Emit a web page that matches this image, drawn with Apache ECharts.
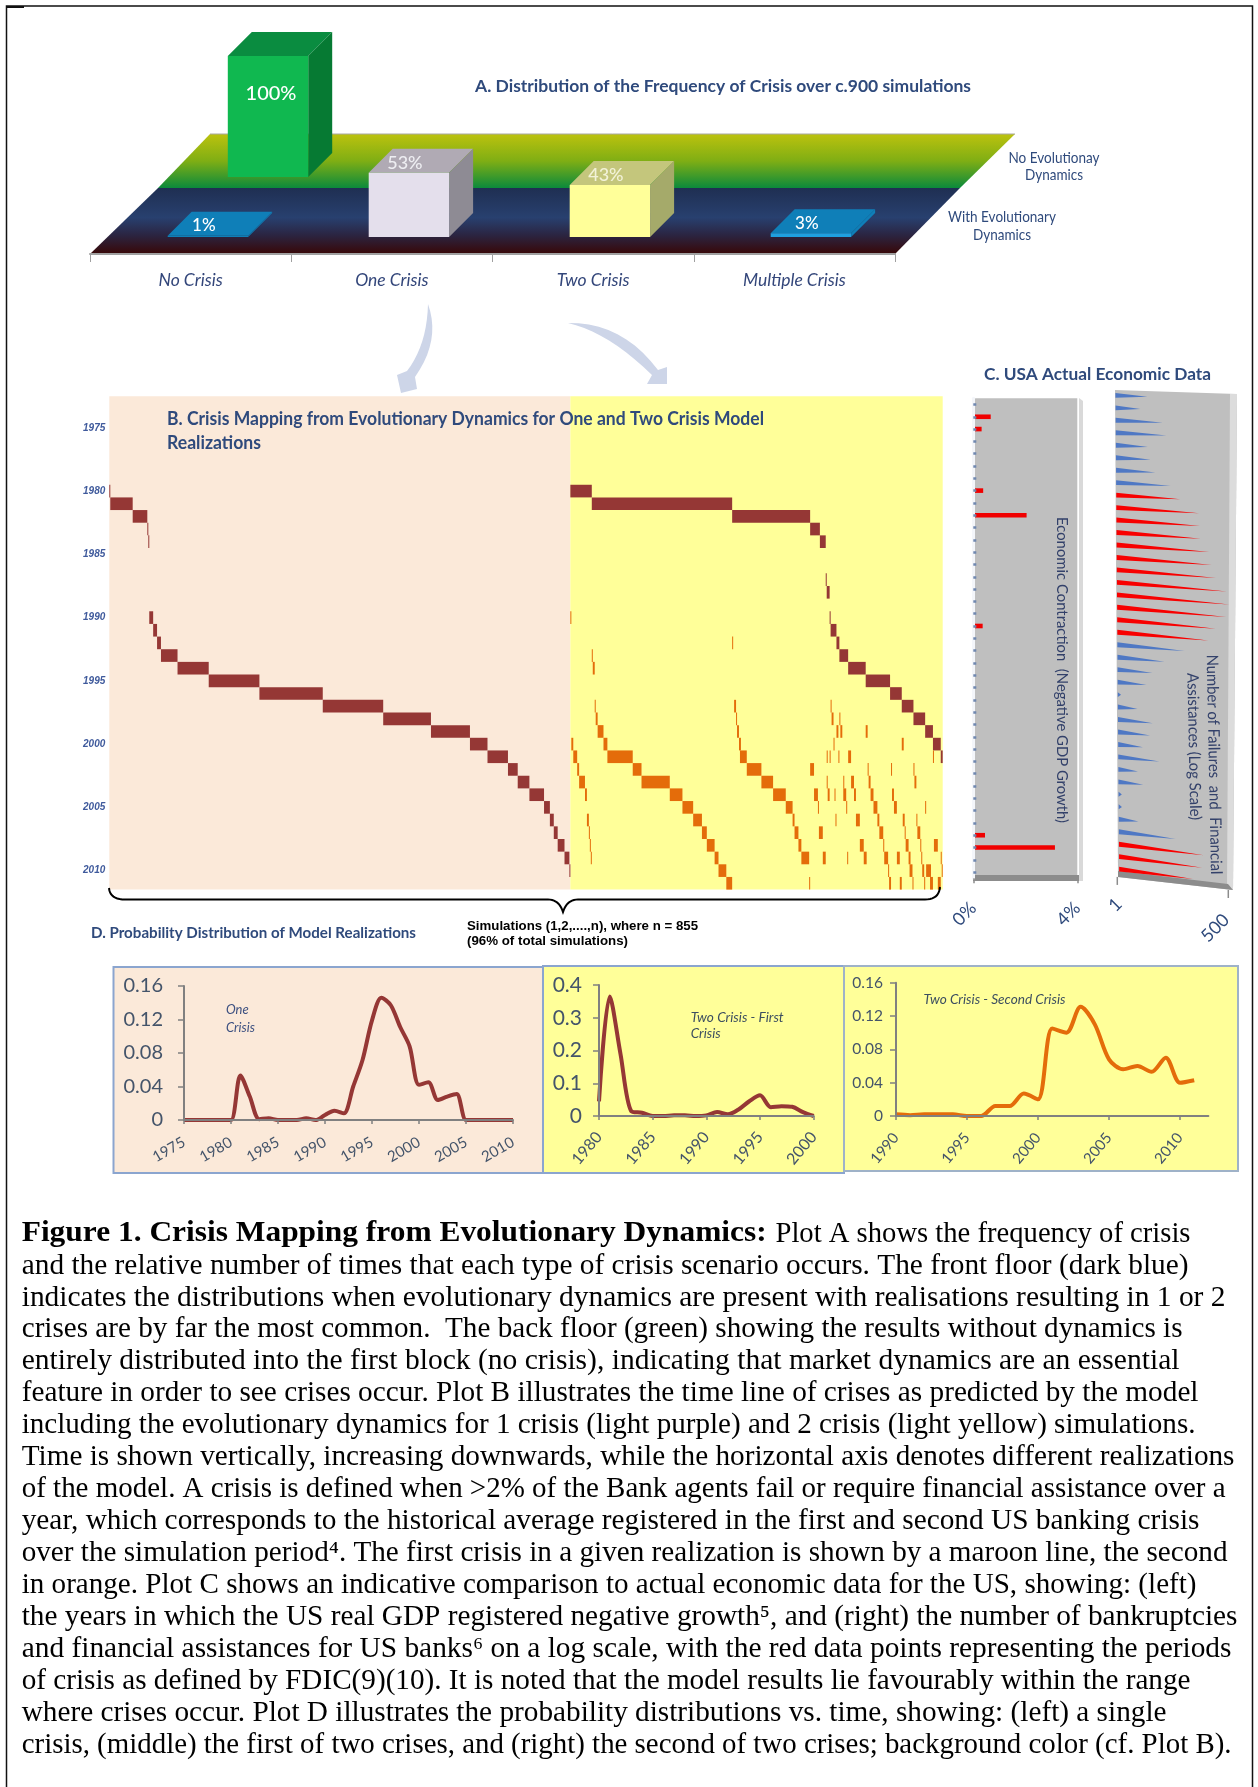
<!DOCTYPE html>
<html><head><meta charset="utf-8">
<style>html,body{margin:0;padding:0;background:#fff}#main{width:1258px;height:1787px}</style>
<script src="https://cdn.jsdelivr.net/npm/echarts@6/dist/echarts.min.js"></script>
</head><body><div id="main"></div>
<script>
// ---------- DATA ----------
const crisisCategories = ['No Crisis','One Crisis','Two Crisis','Multiple Crisis'];
const withDynamicsPct = [1,53,43,3];
const noDynamicsPct = [100,0,0,0];
const yearRows = [];
for (let y = 1973; y <= 2011; y++) yearRows.push(String(y));
const totalSimulations = 855;
const oneCrisisShare = 473;

// [year, first simulation, last simulation]
const oneCrisisFirst = [[1980,0,1],[1981,1,24],[1982,24,39],[1983,39,40],[1984,40,41],[1990,41,45],[1991,45,49],[1992,49,53],[1993,53,70],[1994,70,102],[1995,102,154],[1996,154,219],[1997,219,281],[1998,281,330],[1999,330,370],[2000,370,388],[2001,388,409],[2002,409,419],[2003,419,431],[2004,431,446],[2005,446,452],[2006,452,456],[2007,456,460],[2008,460,467],[2009,467,472],[2010,472,473]];
const twoCrisisFirst = [[1980,473,495],[1981,495,639],[1982,639,719],[1983,719,729],[1984,729,735],[1987,735,736],[1988,736,739],[1990,739,740],[1991,740,746],[1992,746,749],[1993,749,758],[1994,758,776],[1995,776,801],[1996,801,813],[1997,813,825],[1998,825,837],[1999,837,845],[2000,845,853],[2001,853,855]];
const twoCrisisSecond = [[1990,473,474],[1992,639,640],[1993,495,496],[1994,496,498],
[1997,498,499],[1997,641,643],[1997,740,741],
[1998,499,501],[1998,643,644],[1998,741,743],[1998,749,750],
[1999,501,507],[1999,644,646],[1999,746,748],[1999,750,752],[1999,776,778],
[2000,474,476],[2000,507,511],[2000,646,648],[2000,743,744],[2000,813,815],
[2001,476,480],[2001,511,537],[2001,647,654],[2001,736,737],[2001,739,740],[2001,748,749],[2001,758,761],[2001,845,846],
[2002,480,482],[2002,537,546],[2002,654,669],[2002,719,723],[2002,778,779],[2002,802,803],[2002,825,826],
[2003,482,488],[2003,546,575],[2003,669,681],[2003,736,737],[2003,753,754],[2003,761,764],[2003,779,781],[2003,826,828],
[2004,488,490],[2004,575,588],[2004,681,694],[2004,723,727],[2004,737,739],[2004,744,745],[2004,753,756],[2004,764,766],[2004,781,784],[2004,803,805],
[2005,588,599],[2005,694,701],[2005,727,728],[2005,756,757],[2005,784,788],[2005,805,808],[2005,837,838],
[2006,490,492],[2006,599,608],[2006,701,703],[2006,745,746],[2006,766,770],[2006,788,790],[2006,814,816],[2006,828,829],
[2007,492,493],[2007,608,613],[2007,703,707],[2007,728,732],[2007,790,794],[2007,816,817],[2007,829,832],
[2008,493,494],[2008,613,621],[2008,707,710],[2008,770,774],[2008,794,795],[2008,817,820],[2008,832,833],[2008,846,850],
[2009,494,495],[2009,621,625],[2009,710,718],[2009,732,735],[2009,757,758],[2009,774,777],[2009,795,799],[2009,808,811],[2009,820,822],[2009,833,834],[2009,853,854],
[2010,625,633],[2010,799,800],[2010,821,824],[2010,834,836],[2010,838,843],[2010,854,855],
[2011,633,639],[2011,718,719],[2011,800,802],[2011,811,813],[2011,824,825],[2011,836,837],[2011,842,845],[2011,850,853]];

// percent contraction per year, 1973..2011
const gdpContraction = [0,.67,.32,0,0,0,0,.38,0,2.05,0,0,0,0,0,0,0,0,.36,0,0,0,0,0,0,0,0,0,0,0,0,0,0,0,0,.45,3.14,0,0];
// failures and assistances per year, 1973..2011
const bankFailures = [6,4,14,17,6,7,9,21,36,103,107,111,178,203,258,467,534,447,250,162,43,14,7,5,1.2,3,7,6,4,10,3,4,1.2,1.2,3,24,115,105,62];
const fdicCrisisYears = [1981,1982,1983,1984,1985,1986,1987,1988,1989,1990,1991,1992,2009,2010,2011];
const logTicks = [1,500];

const oneCrisisYears = [1975,1976,1977,1978,1979,1980,1981,1982,1983,1984,1985,1986,1987,1988,1989,1990,1991,1992,1993,1994,1995,1996,1997,1998,1999,2000,2001,2002,2003,2004,2005,2006,2007,2008,2009,2010];
const oneCrisisProb = [0,0,0,0,0,0,.053,.028,.001,.002,0,0,0,.002,0,.006,.011,.008,.04,.072,.119,.146,.137,.111,.088,.042,.045,.024,.028,.031,0,0,0,0,0,0];
const firstOfTwoYears = [1980,1981,1982,1983,1984,1985,1986,1987,1988,1989,1990,1991,1992,1993,1994,1995,1996,1997,1998,1999,2000];
const firstOfTwoProb = [.045,.365,.19,.015,.01,0,0,.002,.002,0,.002,.012,.005,.02,.045,.063,.027,.03,.028,.012,0];
const secondOfTwoYears = [1990,1991,1992,1993,1994,1995,1996,1997,1998,1999,2000,2001,2002,2003,2004,2005,2006,2007,2008,2009,2010,2011];
const secondOfTwoProb = [.002,.001,.002,.002,.002,0,0,.012,.012,.027,.02,.105,.1,.131,.11,.068,.056,.06,.053,.07,.04,.043];

const captionBold = 'Figure 1. Crisis Mapping from Evolutionary Dynamics:';
const captionLines = [
 'Plot A shows the frequency of crisis',
 'and the relative number of times that each type of crisis scenario occurs. The front floor (dark blue)',
 'indicates the distributions when evolutionary dynamics are present with realisations resulting in 1 or 2',
 'crises are by far the most common.  The back floor (green) showing the results without dynamics is',
 'entirely distributed into the first block (no crisis), indicating that market dynamics are an essential',
 'feature in order to see crises occur. Plot B illustrates the time line of crises as predicted by the model',
 'including the evolutionary dynamics for 1 crisis (light purple) and 2 crisis (light yellow) simulations.',
 'Time is shown vertically, increasing downwards, while the horizontal axis denotes different realizations',
 'of the model. A crisis is defined when >2% of the Bank agents fail or require financial assistance over a',
 'year, which corresponds to the historical average registered in the first and second US banking crisis',
 'over the simulation period\u2074. The first crisis in a given realization is shown by a maroon line, the second',
 'in orange. Plot C shows an indicative comparison to actual economic data for the US, showing: (left)',
 'the years in which the US real GDP registered negative growth\u2075, and (right) the number of bankruptcies',
 'and financial assistances for US banks\u2076 on a log scale, with the red data points representing the periods',
 'of crisis as defined by FDIC(9)(10). It is noted that the model results lie favourably within the range',
 'where crises occur. Plot D illustrates the probability distributions vs. time, showing: (left) a single',
 'crisis, (middle) the first of two crises, and (right) the second of two crises; background color (cf. Plot B).'
];
const captionEnds = [1190.5,1188.5,1225.5,1182.5,1179.5,1198.5,1195.5,1234.5,1225.5,1199.5,1227.5,1196.5,1237.5,1231.5,1190.5,1166.5,1231.5];

// ---------- STYLE ----------
const MAROON='#953735', ORANGE='#e46c0a', PEACH='#fbe9d9', YELLOW='#ffff99', INK='#2f4a7c', AXIS='#808080', LABEL='#44546a';
const frontStyle = [
 {front:'#0f7fb8',top:'#0f7fb8',side:'#0f7fb8',label:'#fff'},
 {front:'#e4dfec',top:'#b0aab4',side:'#8e8b94',label:'#eeeef2'},
 {front:'#ffff99',top:'#c4c67c',side:'#a5aa6a',label:'#f2f2d8'},
 {front:'#1fa0e0',top:'#0f7fb8',side:'#0f7fb8',label:'#fff'}];
const backStyle = {front:'#10b850',top:'#0a8c40',side:'#067a33',label:'#fff'};

const ctx = document.createElement('canvas').getContext('2d');
function T(text,x,y,font,fill,o){
  o=o||{}; ctx.font=font;
  const sx = o.w ? o.w/ctx.measureText(text).width : 1;
  return {type:'text',x:x,y:y,z:o.z||50,rotation:o.rot||0,scaleX:sx,silent:true,
    style:{text:text,font:font,fill:fill,align:o.align||'left',verticalAlign:'middle'}};
}
function poly(points,fill,z,extra){return Object.assign({type:'polygon',z:z,silent:true,shape:{points:points},style:{fill:fill}},extra||{});}
function vgrad(stops){return new echarts.graphic.LinearGradient(0,0,0,1,stops.map((c,i)=>({offset:c[0],color:c[1]})));}
function quad(p0,p1,p2){const r=[];for(let i=0;i<=10;i++){const t=i/10,u=1-t;r.push([u*u*p0[0]+2*u*t*p1[0]+t*t*p2[0],u*u*p0[1]+2*u*t*p1[1]+t*t*p2[1]]);}return r;}

// ---------- GRAPHIC (decoration and free text) ----------
const g = [];
g.push({type:'polyline',z:1,silent:true,shape:{points:[[6.5,1787],[6.5,6],[1252.5,6],[1252.5,1787]]},style:{stroke:'#111',lineWidth:1.5,fill:null}});
g.push({type:'rect',z:1,silent:true,shape:{x:6,y:6,width:18,height:2},style:{fill:'#111'}});
// panel A floors
g.push(poly([[210,134],[1015,134],[960,188],[158,188]],vgrad([[0,'#bcc20e'],[.5,'#7fae14'],[1,'#0b8a3c']]),1));
g.push(poly([[158,188],[960,188],[895,254],[90,254]],vgrad([[0,'#1f2f52'],[.45,'#28406f'],[.72,'#2b2440'],[1,'#380707']]),1));
g.push({type:'line',z:1,silent:true,shape:{x1:210,y1:134,x2:1015,y2:134},style:{stroke:'#a8a8a0',lineWidth:1}});
g.push(T('A. Distribution of the Frequency of Crisis over c.900 simulations',475,87,'bold 17px Lato',INK,{w:496}));
g.push(T('No Evolutionay',1054,158,'15px Lato',INK,{align:'center',w:91}));
g.push(T('Dynamics',1054,175,'15px Lato',INK,{align:'center',w:58}));
g.push(T('With Evolutionary',1002,217,'15px Lato',INK,{align:'center',w:108}));
g.push(T('Dynamics',1002,235,'15px Lato',INK,{align:'center',w:58}));
// arrows
const ARROW='#cdd5e8';
g.push(poly([].concat(quad([428,304],[441,340],[415,377]),[[417,389],[401,393],[397,375]],quad([407,371],[427,345],[428,304])),ARROW,1));
g.push(poly([].concat(quad([568,323],[622,322],[658,370]),[[667,367],[667,384],[647,384]],quad([652,375],[608,332],[568,323])),ARROW,1));
// panel B text, brace
g.push(T('B. Crisis Mapping from Evolutionary Dynamics for One and Two Crisis Model',167,419.6,'bold 18px Lato',INK,{w:597}));
g.push(T('Realizations',167,442.7,'bold 18px Lato',INK,{w:94}));
const brace=[].concat(quad([109,888],[110,899.5],[125,899.5]),quad([548,899.5],[559,899.5],[563,912]),quad([563,912],[567,899.5],[578,899.5]),quad([925,899.5],[939,899.5],[940,887]));
g.push({type:'polyline',z:30,silent:true,shape:{points:brace},style:{stroke:'#000',lineWidth:2,fill:null}});
g.push(T('Simulations (1,2,....,n), where n = 855',467,926,"bold 13px 'Liberation Sans'",'#000',{w:231}));
g.push(T('(96% of total simulations)',467,941,"bold 13px 'Liberation Sans'",'#000',{w:161}));
// panel C
g.push(T('C. USA Actual Economic Data',984,375,'bold 17px Lato',INK,{w:227}));
g.push(poly([[1079,398],[1083,401],[1083,881],[1079,881]],'#d9d9d9',1));
g.push(poly([[973,875],[1079,875],[1079,881],[973,881]],'#8c8c8c',5));
g.push(poly([[1115,390],[1237,394],[1233,890],[1118,877]],'#bfbfbf',1));
g.push(poly([[1230,394],[1237,394],[1233,890],[1227,889]],'#dcdcdc',1));
g.push(poly([[1118,871],[1228,884],[1233,890],[1118,877]],'#8c8c8c',1));
g.push(T('Economic Contraction  (Negative GDP Growth)',1062,670,'16px Lato','#33416a',{align:'center',rot:-Math.PI/2,w:306}));
g.push(T('Number of Failures  and  Financial',1214,764.5,'16px Lato','#33416a',{align:'center',rot:-Math.PI/2+0.02,w:220}));
g.push(T('Assistances (Log Scale)',1194,746.5,'16px Lato','#33416a',{align:'center',rot:-Math.PI/2+0.02,w:147}));
// panel D
g.push(T('D. Probability Distribution of Model Realizations',91,933,'bold 16px Lato',INK,{w:325}));
g.push({type:'rect',z:1,silent:true,shape:{x:113.5,y:967,width:430,height:206},style:{fill:PEACH,stroke:'#8ba5cf',lineWidth:2}});
g.push({type:'rect',z:1,silent:true,shape:{x:543,y:966,width:301,height:207},style:{fill:YELLOW,stroke:'#8ba5cf',lineWidth:2}});
g.push({type:'rect',z:1,silent:true,shape:{x:844,y:966,width:394,height:205},style:{fill:YELLOW,stroke:'#9fb2c8',lineWidth:2}});
g.push(T('One',226,1010,'italic 13px Lato','#3c5080'));
g.push(T('Crisis',226,1028,'italic 13px Lato','#3c5080'));
g.push(T('Two Crisis - First',690.7,1018,'italic 13px Lato','#3d4f60',{w:93}));
g.push(T('Crisis',690.7,1034,'italic 13px Lato','#3d4f60',{w:30}));
g.push(T('Two Crisis - Second Crisis',923.5,1000,'italic 13px Lato','#3d4f60',{w:142}));
// caption
const SERIF="'Liberation Serif'";
g.push(T(captionBold,21.7,1234,'bold 29px '+SERIF,'#000',{w:745}));
captionLines.forEach((t,i)=>{
  const x = i===0 ? 775.5 : 21.7;
  g.push(T(t,x,1234+i*31.96,'29px '+SERIF,'#000',{w:captionEnds[i]-x}));
});

// ---------- SERIES HELPERS ----------
function box3d(styleOf,depth){
  return function(params,api){
    const cat=api.value(0), val=api.value(1);
    if(!val) return null;
    const base=api.coord([cat,0]), top=api.coord([cat,val]), halfW=api.size([1,0])[0]*0.2;
    const l=base[0]-halfW, r=base[0]+halfW, b=base[1], t=top[1], s=styleOf(cat);
    const big=val>=100;
    return {type:'group',children:[
      {type:'polygon',shape:{points:[[l,t],[r,t],[r+depth,t-depth],[l+depth,t-depth]]},style:{fill:s.top}},
      {type:'polygon',shape:{points:[[r,t],[r+depth,t-depth],[r+depth,b-depth],[r,b]]},style:{fill:s.side}},
      {type:'rect',shape:{x:l,y:t,width:r-l,height:Math.max(b-t,1)},style:{fill:s.front}},
      {type:'text',x:big?base[0]+3:base[0]-4,y:big?t+38:t-10,
       style:{text:val+'%',fill:s.label,align:'center',verticalAlign:'middle',font:(big?'500 20px':(val<10?'500 17px':'500 18px'))+' Lato'}}
    ]};
  };
}
function cellItem(color){
  return function(params,api){
    const row=api.value(0), a=api.coord([api.value(1),row]), b=api.coord([api.value(2),row]), h=api.size([0,1])[1];
    return {type:'rect',shape:{x:a[0],y:a[1]-h/2,width:Math.max(b[0]-a[0],1),height:h},style:{fill:color}};
  };
}
const cells = list => list.map(d=>[d[0]-1973,d[1],d[2]]);
function customCells(name,list,color,z){
  return {type:'custom',name:name,coordinateSystem:'cartesian2d',xAxisIndex:3,yAxisIndex:3,silent:true,z:z,
    clip:false,encode:{x:[1,2],y:0},data:cells(list),renderItem:cellItem(color)};
}
function probLine(i,xs,ys,color){
  return {type:'line',xAxisIndex:i,yAxisIndex:i,data:xs.map((x,k)=>[x,ys[k]]),smooth:0.3,symbol:'none',silent:true,
    lineStyle:{color:color,width:4},z:5};
}
function axisX(i,min,max,rot,size,margin,extra){
  return Object.assign({type:'value',gridIndex:i,z:10,min:min,max:max,interval:5,splitLine:{show:false},
    axisLine:{onZero:false,lineStyle:{color:AXIS,width:2}},axisTick:{length:4,lineStyle:{color:AXIS,width:1.5}},
    axisLabel:{rotate:rot,fontFamily:'Lato',fontSize:size,color:LABEL,margin:margin,formatter:v=>String(v),hideOverlap:false}},extra||{});
}
function axisY(i,max,step,size,margin){
  return {type:'value',gridIndex:i,z:10,min:0,max:max,interval:step,splitLine:{show:false},
    axisLine:{show:true,onZero:false,lineStyle:{color:AXIS,width:2}},axisTick:{show:true,length:6,lineStyle:{color:AXIS,width:1.5}},
    axisLabel:{fontFamily:'Lato',fontSize:size,color:LABEL,margin:margin,formatter:v=>v===0?'0':String(+v.toFixed(2))}};
}
const hiddenCat = (i,data)=>({type:'category',gridIndex:i,data:data,show:false});
const hiddenVal = (i,max)=>({type:'value',gridIndex:i,min:0,max:max,show:false});
const G = o => Object.assign({outerBoundsMode:'none',containLabel:false},o);

// ---------- OPTION ----------
const option = {
  animation:false,
  backgroundColor:'#fff',
  graphic:{elements:g},
  grid:[
    G({left:90,top:250,width:805,height:4}),                 // 0 panel A floor axis
    G({left:107.4,top:116,width:804,height:121}),            // 1 panel A front row
    G({left:167.5,top:56,width:804,height:121}),             // 2 panel A back row
    G({left:109.3,top:396.2,width:833.4,height:493.4}),      // 3 panel B
    G({left:973.3,top:398.3,width:104,height:480,show:true,backgroundColor:'#bfbfbf',borderWidth:0}), // 4 panel C left
    G({left:1117.3,top:389,width:111,height:486.2}),         // 5 panel C right
    G({left:184,top:986,width:329,height:134}),              // 6 panel D left
    G({left:599,top:985,width:214.7,height:131}),            // 7 panel D middle
    G({left:896,top:982.7,width:312.4,height:133.3})         // 8 panel D right
  ],
  xAxis:[
    {type:'category',gridIndex:0,z:10,data:crisisCategories,boundaryGap:true,
      axisLine:{show:true,onZero:false,lineStyle:{color:'#a0a0a0',width:2}},axisTick:{show:true,length:8,lineStyle:{color:'#a0a0a0',width:1}},
      axisLabel:{fontFamily:'Lato',fontStyle:'italic',fontSize:17.5,color:'#33467a',margin:17,interval:0}},
    hiddenCat(1,crisisCategories),
    hiddenCat(2,crisisCategories),
    {type:'value',gridIndex:3,min:0,max:totalSimulations,show:false},
    {type:'value',gridIndex:4,z:10,min:0,max:4,interval:4,splitLine:{show:false},
      axisLine:{show:false},axisTick:{show:true,length:5,lineStyle:{color:'#8c8c8c',width:1.5}},
      axisLabel:{rotate:45,fontFamily:'Lato',fontSize:18,color:INK,margin:27,formatter:'{value}%'}},
    {type:'log',gridIndex:5,min:1,max:500,logBase:10,show:false},
    axisX(6,1975,2010,30,15,21),
    axisX(7,1980,2000,50,16,18),
    axisX(8,1990,2012,50,15,19,{axisTick:{customValues:[1990,1995,2000,2005,2010],length:4,lineStyle:{color:AXIS,width:1.5}},
      axisLabel:{rotate:50,fontFamily:'Lato',fontSize:15,color:LABEL,margin:19,customValues:[1990,1995,2000,2005,2010],formatter:v=>String(v)}})
  ],
  yAxis:[
    hiddenVal(0,1),
    hiddenVal(1,100),
    hiddenVal(2,100),
    {type:'category',gridIndex:3,z:10,data:yearRows,inverse:true,
      axisLine:{show:false},axisTick:{show:false},
      axisLabel:{interval:(i,v)=>(+v)%5===0,fontFamily:"'Liberation Sans'",fontWeight:'bold',fontStyle:'italic',fontSize:10,color:'#3f5a9c',margin:4}},
    {type:'category',gridIndex:4,z:10,data:yearRows,inverse:true,
      axisLine:{lineStyle:{color:'#f4f6fa',width:3}},
      axisTick:{show:true,inside:true,interval:0,alignWithLabel:true,length:3,lineStyle:{color:'#7088b0',width:2.5}},
      axisLabel:{show:false}},
    {type:'category',gridIndex:5,data:yearRows,inverse:true,show:false},
    axisY(6,0.16,0.04,20,21),
    axisY(7,0.4,0.1,21,17),
    axisY(8,0.16,0.04,15.5,13)
  ],
  series:[
    {type:'custom',name:'No Evolutionary Dynamics',coordinateSystem:'cartesian2d',xAxisIndex:2,yAxisIndex:2,silent:true,clip:false,z:3,
      encode:{x:0,y:1},data:noDynamicsPct.map((v,i)=>[i,v]),renderItem:box3d(()=>backStyle,24)},
    {type:'custom',name:'With Evolutionary Dynamics',coordinateSystem:'cartesian2d',xAxisIndex:1,yAxisIndex:1,silent:true,clip:false,z:4,
      encode:{x:0,y:1},data:withDynamicsPct.map((v,i)=>[i,v]),renderItem:box3d(c=>frontStyle[c],24)},
    {type:'custom',name:'regions',coordinateSystem:'cartesian2d',xAxisIndex:3,yAxisIndex:3,silent:true,z:1,clip:false,
      encode:{x:[0,1]},data:[[0,oneCrisisShare,PEACH],[oneCrisisShare,totalSimulations,YELLOW]],
      renderItem:(p,api)=>{const a=api.coord([api.value(0),0]),b=api.coord([api.value(1),0]),r=p.coordSys;
        return {type:'rect',shape:{x:a[0],y:r.y,width:b[0]-a[0],height:r.height},style:{fill:[PEACH,YELLOW][p.dataIndex]}};}},
    customCells('One crisis',oneCrisisFirst,MAROON,3),
    customCells('Two crisis, first',twoCrisisFirst,MAROON,3),
    customCells('Two crisis, second',twoCrisisSecond,ORANGE,3),
    {type:'bar',name:'GDP contraction',xAxisIndex:4,yAxisIndex:4,data:gdpContraction,barWidth:4.6,silent:true,z:5,itemStyle:{color:'#f00000'}},
    {type:'custom',name:'Failures',coordinateSystem:'cartesian2d',xAxisIndex:5,yAxisIndex:5,silent:true,clip:false,z:5,
      encode:{x:1,y:0},data:bankFailures.map((v,i)=>[i,v]),
      renderItem:(p,api)=>{
        const row=api.value(0), v=api.value(1), c=api.coord([v,row]), o=api.coord([1,row]);
        const skew=(row-19)*0.097, slope=0.05+0.0023*row, x0=o[0]+skew, x1=c[0]+skew, y=o[1];
        const red=fdicCrisisYears.indexOf(1973+row)>=0;
        return {type:'polygon',shape:{points:[[x0,y-2.3],[x1,y+(x1-x0)*slope],[x0,y+2.6]]},style:{fill:red?'#f80000':'#4f78c4'}};
      }},
    {type:'custom',name:'Log ticks',coordinateSystem:'cartesian2d',xAxisIndex:5,yAxisIndex:5,silent:true,clip:false,z:5,
      encode:{x:0},data:logTicks.map(v=>[v]),
      renderItem:(p,api)=>{
        const v=api.value(0), x=api.coord([v,38])[0], base=877+(x-1118)*0.118, big=v>1;
        return {type:'group',children:[
          {type:'line',shape:{x1:x,y1:base,x2:x,y2:base+8},style:{stroke:'#8c8c8c',lineWidth:1.5}},
          {type:'text',x:x+(big?-13:-2),y:base+(big?38:28),rotation:Math.PI/4,
           style:{text:String(v),font:'18px Lato',fill:INK,align:'center',verticalAlign:'middle'}}
        ]};
      }},
    probLine(6,oneCrisisYears,oneCrisisProb,MAROON),
    probLine(7,firstOfTwoYears,firstOfTwoProb,MAROON),
    probLine(8,secondOfTwoYears,secondOfTwoProb,ORANGE)
  ]
};
const chart = echarts.init(document.getElementById('main'));
chart.setOption(option);
</script></body></html>
